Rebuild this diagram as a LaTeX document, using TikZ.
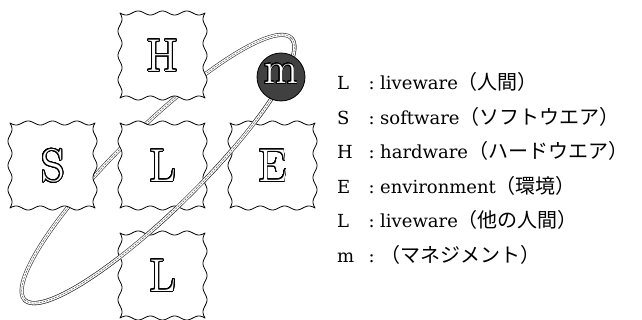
\documentclass[tikz,border=0pt]{standalone}
\usepackage{fontspec}
\usepackage{contour}
\newfontfamily\latf{DejaVu Serif}
\newfontfamily\jpf{Noto Sans CJK JP}
\contourlength{0.9pt}
\contournumber{32}
\tikzset{
  band/.style={draw=black!80, line width=0.6pt, double=white, double distance=2.8pt},
  bandin/.style={draw=black!60, line width=0.6pt, dash pattern=on 2pt off 1.2pt},
  wbox/.style={fill=white, draw=black, line width=0.8pt, line join=round},
  big/.style={font=\fontsize{46}{46}\selectfont, inner sep=0pt},
  mfont/.style={font=\fontsize{44}{44}\selectfont, inner sep=0pt},
  mball/.style={circle, fill=black!75, draw=black, line width=0.8pt, minimum size=48pt, inner sep=0pt},
  leg/.style={anchor=base west, inner sep=0pt, font=\fontsize{18}{20}\selectfont\latf},
}
\newcommand\jp[1]{{\fontsize{20}{20}\selectfont\jpf #1}}
\newcommand\outl[1]{\contour{black}{\textcolor{white}{#1}}}
\newcommand\wavybox[2]{%
  \filldraw[wbox] plot[domain=0:1,samples=71,smooth] ({#1+85*\x},{#2+2*sin(1260*\x)})
    -- plot[domain=0:1,samples=71,smooth] ({#1+85-2*sin(1260*\x)},{#2+85*\x})
    -- plot[domain=0:1,samples=71,smooth] ({#1+85-85*\x},{#2+85-2*sin(1260*\x)})
    -- plot[domain=0:1,samples=71,smooth] ({#1+2*sin(1260*\x)},{#2+85-85*\x}) -- cycle;}
\newcommand\legline[5]{\node[leg] (#1) at (337,#2) {\makebox[26pt][l]{#3}\makebox[17pt]{:}#4#5};}
\begin{document}
\begin{tikzpicture}[x=1pt,y=-1pt]
\fill[white] (0,0) rectangle (642,320);
\useasboundingbox (0,0) rectangle (642,320);
% orbit (back)
\draw[band] plot[domain=0:358,samples=180,smooth cycle] ({158+133.3*cos(\x)+28.7*sin(\x)},{169-130.9*cos(\x)+29.2*sin(\x)});
\draw[bandin] plot[domain=0:358,samples=180,smooth cycle] ({158+133.3*cos(\x)+28.7*sin(\x)},{169-130.9*cos(\x)+29.2*sin(\x)});
% boxes
\wavybox{120}{13}
\wavybox{10}{123}
\wavybox{120}{123}
\wavybox{230}{123}
\wavybox{120}{233}
% orbit (front)
\draw[band] plot[domain=0:180,samples=91,smooth] ({158+133.3*cos(\x)+28.7*sin(\x)},{169-130.9*cos(\x)+29.2*sin(\x)});
\draw[bandin] plot[domain=0:180,samples=91,smooth] ({158+133.3*cos(\x)+28.7*sin(\x)},{169-130.9*cos(\x)+29.2*sin(\x)});
% management ball
\node[mball] (ball) at (281,77) {};
\node[mfont] (mlet) at (281,74) {\outl{m}};
% letters
\node[big] (H) at (162.5,56) {\outl{H}};
\node[big] (S) at (53,166) {\outl{S}};
\node[big] (L) at (162.5,166) {\outl{L}};
\node[big] (E) at (272.5,166) {\outl{E}};
\node[big] (L2) at (162.5,276) {\outl{L}};
% legend
\legline{t1}{90}{L}{liveware}{\jp{（人間）}}
\legline{t2}{124.5}{S}{software}{\jp{（ソフトウエア）}}
\legline{t3}{159}{H}{hardware}{\jp{（ハードウエア）}}
\legline{t4}{193.5}{E}{environment}{\jp{（環境）}}
\legline{t5}{228}{L}{liveware}{\jp{（他の人間）}}
\legline{t6}{262.5}{m}{}{\jp{（マネジメント）}}
\end{tikzpicture}
\end{document}
